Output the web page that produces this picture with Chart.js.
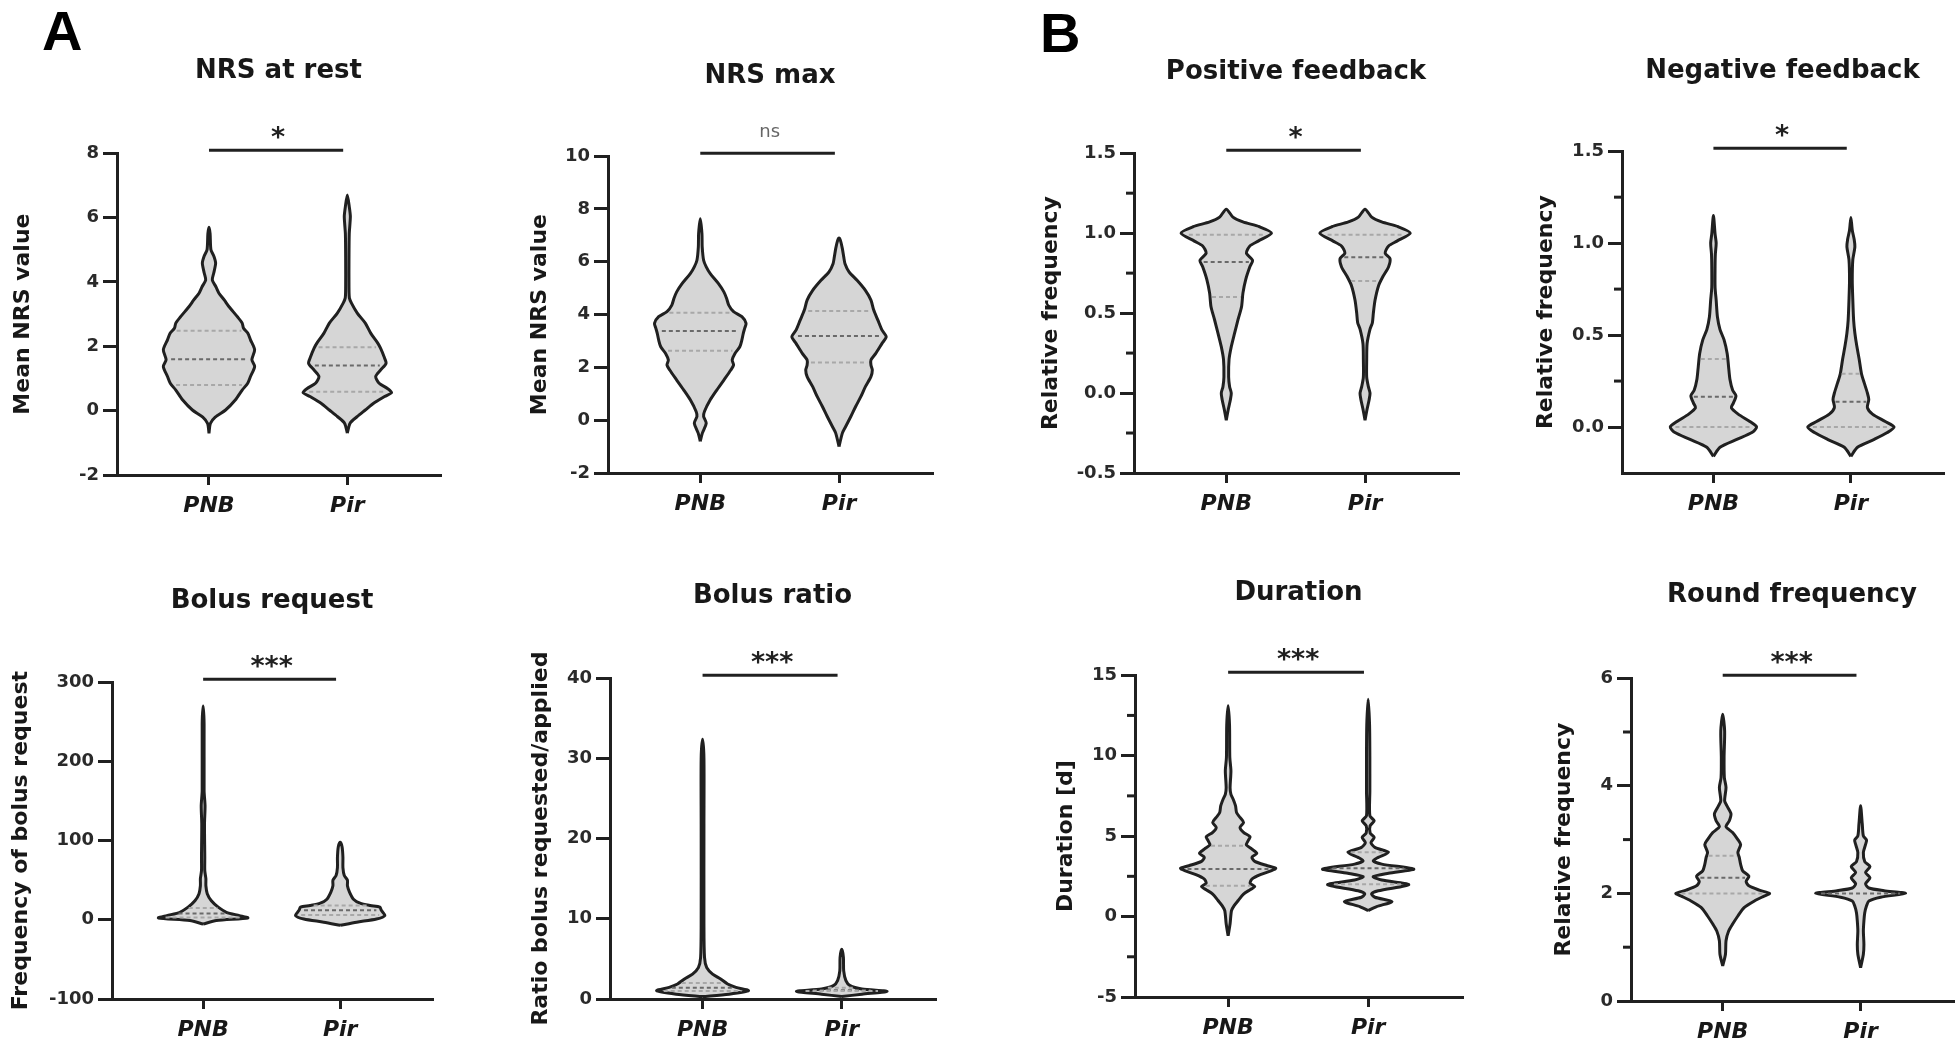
<!DOCTYPE html>
<html>
<head>
<meta charset="utf-8">
<script src="https://cdn.jsdelivr.net/npm/chart.js@4.4.1/dist/chart.umd.min.js"></script>
<style>
  body { margin: 0; background: #fff; }
  #page { position: relative; width: 1960px; height: 1048px; overflow: hidden; }
  #page canvas { position: absolute; }
  .tag { position: absolute; font: bold 56px "Liberation Sans", Arial, sans-serif; line-height: 1; color: #000; }
</style>
</head>
<body>
<div id="page">
  <div class="tag" style="left:42px;top:3px">A</div>
  <div class="tag" style="left:1040px;top:5px">B</div>
</div>
<script>
const categories = ['PNB', 'Pir'];

// violin outlines: value levels (Y) and half widths (W, in category units), quartiles (Q)
// NRS at rest
const restPnbY = [-0.7, -0.4, -0.2, 0.02, 0.33, 0.64, 0.85, 1.06, 1.37, 1.58, 1.89, 2.2, 2.41, 2.56, 2.72, 2.92, 3.23, 3.44, 3.65, 3.85, 4.06, 4.27, 4.58, 4.79, 5.0, 5.5, 5.7];
const restPnbW = [0, 0.01, 0.045, 0.12, 0.19, 0.24, 0.28, 0.30, 0.33, 0.31, 0.33, 0.30, 0.28, 0.25, 0.24, 0.205, 0.145, 0.11, 0.072, 0.05, 0.024, 0.034, 0.048, 0.036, 0.014, 0.008, 0];
const restPnbQ = [0.8, 1.6, 2.48];
const restPirY = [-0.7, -0.39, -0.19, 0.02, 0.23, 0.44, 0.56, 0.69, 0.85, 1.06, 1.26, 1.47, 1.68, 1.94, 2.1, 2.4, 2.72, 3.03, 3.34, 3.5, 3.85, 4.68, 5.5, 6.03, 6.34, 6.7];
const restPirW = [0, 0.02, 0.07, 0.13, 0.19, 0.27, 0.32, 0.29, 0.23, 0.205, 0.24, 0.28, 0.265, 0.24, 0.22, 0.17, 0.13, 0.072, 0.03, 0.015, 0.012, 0.012, 0.014, 0.022, 0.014, 0];
const restPirQ = [0.59, 1.4, 1.97];
const restTicks = [-2, 0, 2, 4, 6, 8];

// NRS max
const maxPnbY = [-0.8, -0.49, -0.11, 0.14, 0.33, 0.77, 1.15, 1.52, 1.9, 2.09, 2.28, 2.53, 2.78, 3.04, 3.29, 3.48, 3.67, 3.92, 4.11, 4.36, 4.61, 4.86, 5.18, 5.55, 5.81, 6.06, 6.56, 7.07, 7.63];
const maxPnbW = [0, 0.015, 0.043, 0.024, 0.03, 0.072, 0.12, 0.17, 0.22, 0.24, 0.23, 0.25, 0.285, 0.30, 0.31, 0.32, 0.33, 0.30, 0.24, 0.205, 0.19, 0.17, 0.13, 0.072, 0.043, 0.024, 0.014, 0.012, 0];
const maxPnbQ = [2.63, 3.38, 4.07];
const maxPirY = [-1.0, -0.49, -0.24, 0.14, 0.52, 0.89, 1.27, 1.65, 1.9, 2.09, 2.28, 2.53, 2.91, 3.16, 3.41, 3.79, 4.17, 4.55, 4.92, 5.3, 5.62, 5.93, 6.18, 6.5, 6.81, 6.9];
const maxPirW = [0, 0.024, 0.048, 0.085, 0.12, 0.157, 0.19, 0.23, 0.24, 0.23, 0.23, 0.265, 0.31, 0.34, 0.31, 0.28, 0.25, 0.23, 0.19, 0.13, 0.072, 0.043, 0.034, 0.024, 0.01, 0];
const maxPirQ = [2.19, 3.19, 4.14];
const maxTicks = [-2, 0, 2, 4, 6, 8, 10];

// Positive feedback
const posPnbY = [-0.17, -0.1, -0.04, 0.0, 0.04, 0.1, 0.21, 0.29, 0.375, 0.46, 0.54, 0.625, 0.71, 0.79, 0.83, 0.875, 0.92, 0.95, 1.0, 1.04, 1.07, 1.1, 1.15];
const posPnbW = [0, 0.015, 0.03, 0.036, 0.024, 0.017, 0.02, 0.036, 0.06, 0.085, 0.11, 0.12, 0.14, 0.17, 0.19, 0.145, 0.17, 0.23, 0.326, 0.24, 0.12, 0.048, 0];
const posPnbQ = [0.6, 0.82, 0.99];
const posPirY = [-0.17, -0.1, -0.04, 0.0, 0.04, 0.1, 0.21, 0.31, 0.4, 0.44, 0.5, 0.58, 0.67, 0.73, 0.79, 0.84, 0.875, 0.92, 0.95, 1.0, 1.04, 1.07, 1.1, 1.15];
const posPirW = [0, 0.015, 0.03, 0.036, 0.024, 0.012, 0.012, 0.015, 0.036, 0.053, 0.06, 0.072, 0.097, 0.13, 0.17, 0.18, 0.145, 0.17, 0.23, 0.326, 0.24, 0.12, 0.048, 0];
const posPirQ = [0.7, 0.85, 0.99];
const posTicks = [-0.5, 0, 0.5, 1, 1.5];
const posMinor = [-0.25, 0.25, 0.75, 1.25];

// Negative feedback
const negPnbY = [-0.16, -0.11, -0.067, -0.03, 0, 0.03, 0.07, 0.105, 0.13, 0.17, 0.2, 0.26, 0.33, 0.4, 0.475, 0.53, 0.6, 0.69, 0.76, 0.87, 0.94, 1.0, 1.05, 1.15];
const negPnbW = [0, 0.048, 0.17, 0.28, 0.314, 0.265, 0.18, 0.13, 0.145, 0.164, 0.14, 0.12, 0.11, 0.10, 0.077, 0.048, 0.029, 0.02, 0.012, 0.012, 0.014, 0.02, 0.012, 0];
const negPnbQ = [0, 0.165, 0.37];
const negPirY = [-0.16, -0.11, -0.067, -0.03, 0, 0.03, 0.07, 0.105, 0.15, 0.185, 0.24, 0.29, 0.37, 0.44, 0.51, 0.58, 0.69, 0.8, 0.91, 0.98, 1.02, 1.07, 1.14];
const negPirW = [0, 0.048, 0.17, 0.265, 0.314, 0.25, 0.157, 0.12, 0.13, 0.12, 0.097, 0.077, 0.06, 0.043, 0.029, 0.02, 0.014, 0.01, 0.014, 0.029, 0.024, 0.01, 0];
const negPirQ = [0, 0.137, 0.29];
const negTicks = [0, 0.5, 1, 1.5];
const negMinor = [0.25, 0.75, 1.25];

// Bolus request
const bolPnbY = [-5.3, -1, 2.3, 5.3, 9.5, 16, 24, 33, 43, 52, 62, 79, 121, 144, 163, 247, 270];
const bolPnbW = [0, 0.097, 0.326, 0.265, 0.17, 0.11, 0.06, 0.03, 0.02, 0.02, 0.012, 0.012, 0.01, 0.014, 0.007, 0.007, 0];
const bolPnbQ = [3, 8, 15];
const bolPirY = [-7, -3, 1, 5.3, 12, 16, 18, 21, 26, 35, 43, 50, 56, 66, 79, 92, 98];
const bolPirW = [0, 0.12, 0.265, 0.326, 0.3, 0.29, 0.22, 0.145, 0.097, 0.068, 0.053, 0.053, 0.03, 0.02, 0.02, 0.014, 0];
const bolPirQ = [6, 12, 18];
const bolTicks = [-100, 0, 100, 200, 300];

// Bolus ratio
const ratPnbY = [0.3, 0.6, 1.04, 1.45, 1.87, 2.5, 3.1, 3.9, 5.2, 9.3, 21.8, 30, 32.4];
const ratPnbW = [0, 0.19, 0.33, 0.24, 0.18, 0.13, 0.072, 0.03, 0.014, 0.01, 0.01, 0.01, 0];
const ratPnbQ = [1.0, 1.4, 2.0];
const ratPirY = [0.3, 0.6, 0.95, 1.25, 1.66, 2.3, 3.5, 5.2, 6.2];
const ratPirW = [0, 0.145, 0.326, 0.145, 0.06, 0.03, 0.014, 0.012, 0];
const ratPirQ = [1.0, 1.1, 1.4];
const ratTicks = [0, 10, 20, 30, 40];

// Duration
const durPnbY = [-1.2, -0.45, 0.37, 0.68, 1.0, 1.4, 1.67, 1.86, 2.07, 2.33, 2.6, 2.85, 3.0, 3.16, 3.43, 3.68, 3.93, 4.19, 4.46, 4.75, 4.96, 5.23, 5.54, 5.85, 6.16, 6.47, 6.88, 7.29, 7.6, 8.0, 9.05, 9.9, 11.9, 13.1];
const durPnbW = [0, 0.014, 0.024, 0.043, 0.072, 0.11, 0.157, 0.19, 0.157, 0.17, 0.23, 0.31, 0.34, 0.28, 0.19, 0.17, 0.205, 0.17, 0.13, 0.145, 0.157, 0.11, 0.085, 0.11, 0.085, 0.06, 0.053, 0.036, 0.02, 0.014, 0.02, 0.012, 0.01, 0];
const durPnbQ = [1.92, 2.95, 4.4];
const durPirY = [0.37, 0.62, 0.93, 1.2, 1.4, 1.6, 1.98, 2.27, 2.48, 2.69, 2.95, 3.26, 3.47, 3.68, 3.99, 4.3, 4.6, 4.92, 5.2, 5.64, 5.95, 6.26, 7.8, 9.9, 11.9, 13.5];
const durPirW = [0, 0.06, 0.17, 0.048, 0.024, 0.072, 0.29, 0.097, 0.036, 0.145, 0.326, 0.097, 0.036, 0.072, 0.145, 0.048, 0.02, 0.043, 0.014, 0.014, 0.043, 0.012, 0.012, 0.012, 0.01, 0];
const durPirQ = [2, 3, 4];
const durTicks = [-5, 0, 5, 10, 15];
const durMinor = [-2.5, 2.5, 7.5, 12.5];

// Round frequency
const rndPnbY = [0.65, 0.87, 1.12, 1.3, 1.43, 1.58, 1.74, 1.86, 1.95, 2.0, 2.06, 2.14, 2.22, 2.32, 2.42, 2.54, 2.67, 2.76, 2.91, 3.0, 3.13, 3.24, 3.35, 3.48, 3.63, 3.72, 3.97, 4.15, 4.53, 5.02, 5.33];
const rndPnbW = [0, 0.02, 0.024, 0.043, 0.072, 0.11, 0.157, 0.23, 0.3, 0.34, 0.265, 0.19, 0.17, 0.19, 0.145, 0.13, 0.12, 0.11, 0.13, 0.11, 0.072, 0.024, 0.048, 0.06, 0.03, 0.014, 0.024, 0.012, 0.01, 0.014, 0];
const rndPnbQ = [2.0, 2.29, 2.7];
const rndPirY = [0.62, 0.87, 1.05, 1.3, 1.49, 1.64, 1.77, 1.86, 1.93, 2.0, 2.05, 2.1, 2.18, 2.29, 2.39, 2.5, 2.59, 2.76, 2.91, 2.99, 3.07, 3.29, 3.63];
const rndPirW = [0, 0.02, 0.024, 0.02, 0.024, 0.03, 0.043, 0.06, 0.145, 0.326, 0.17, 0.06, 0.036, 0.068, 0.036, 0.068, 0.03, 0.02, 0.036, 0.043, 0.02, 0.012, 0];
const rndPirQ = [2.0];
const rndTicks = [0, 2, 4, 6];
const rndMinor = [1, 3, 5];

const panels = [
  {title: 'NRS at rest', yLabel: 'Mean NRS value', yMin: -2, yMax: 8, ticks: restTicks, minor: [], dec: 0, sig: '*',
   groups: [[restPnbY, restPnbW, restPnbQ], [restPirY, restPirW, restPirQ]]},
  {title: 'NRS max', yLabel: 'Mean NRS value', yMin: -2, yMax: 10, ticks: maxTicks, minor: [], dec: 0, sig: 'ns',
   groups: [[maxPnbY, maxPnbW, maxPnbQ], [maxPirY, maxPirW, maxPirQ]]},
  {title: 'Positive feedback', yLabel: 'Relative frequency', yMin: -0.5, yMax: 1.5, ticks: posTicks, minor: posMinor, dec: 1, sig: '*',
   groups: [[posPnbY, posPnbW, posPnbQ], [posPirY, posPirW, posPirQ]]},
  {title: 'Negative feedback', yLabel: 'Relative frequency', yMin: -0.25, yMax: 1.5, ticks: negTicks, minor: negMinor, dec: 1, sig: '*',
   groups: [[negPnbY, negPnbW, negPnbQ], [negPirY, negPirW, negPirQ]]},
  {title: 'Bolus request', yLabel: 'Frequency of bolus request', yMin: -100, yMax: 300, ticks: bolTicks, minor: [], dec: 0, sig: '***',
   groups: [[bolPnbY, bolPnbW, bolPnbQ], [bolPirY, bolPirW, bolPirQ]]},
  {title: 'Bolus ratio', yLabel: 'Ratio bolus requested/applied', yMin: 0, yMax: 40, ticks: ratTicks, minor: [], dec: 0, sig: '***',
   groups: [[ratPnbY, ratPnbW, ratPnbQ], [ratPirY, ratPirW, ratPirQ]]},
  {title: 'Duration', yLabel: 'Duration [d]', yMin: -5, yMax: 15, ticks: durTicks, minor: durMinor, dec: 0, sig: '***',
   groups: [[durPnbY, durPnbW, durPnbQ], [durPirY, durPirW, durPirQ]]},
  {title: 'Round frequency', yLabel: 'Relative frequency', yMin: 0, yMax: 6, ticks: rndTicks, minor: rndMinor, dec: 0, sig: '***',
   groups: [[rndPnbY, rndPnbW, rndPnbQ], [rndPirY, rndPirW, rndPirQ]]}
];

// where each plot sits on the page (px)
const frames = [
  {x0: 0, y0: 0, left: 117, right: 440, top: 153, bottom: 475, titleY: 72, yTitleX: 23},
  {x0: 490, y0: 0, left: 608, right: 932, top: 156, bottom: 473, titleY: 77, yTitleX: 540},
  {x0: 980, y0: 0, left: 1134, right: 1458, top: 153, bottom: 473, titleY: 73, yTitleX: 1051},
  {x0: 1470, y0: 0, left: 1622, right: 1943, top: 151, bottom: 473, titleY: 72, yTitleX: 1546},
  {x0: 0, y0: 524, left: 112, right: 432, top: 682, bottom: 999, titleY: 602, yTitleX: 21},
  {x0: 490, y0: 524, left: 610, right: 935, top: 678, bottom: 999, titleY: 597, yTitleX: 541},
  {x0: 980, y0: 524, left: 1135, right: 1462, top: 675, bottom: 997, titleY: 594, yTitleX: 1066},
  {x0: 1470, y0: 524, left: 1631, right: 1953, top: 678, bottom: 1001, titleY: 596, yTitleX: 1564}
];

const ink = '#202020';
const fillGray = '#d6d6d6';
const fam = '"DejaVu Sans", sans-serif';
Chart.defaults.font.family = fam;

function widthAt(ys, ws, v) {
  for (let i = 1; i < ys.length; i++) {
    if (v <= ys[i]) {
      const t = (v - ys[i - 1]) / (ys[i] - ys[i - 1]);
      return ws[i - 1] + t * (ws[i] - ws[i - 1]);
    }
  }
  return 0;
}

function violinSets(c, ys, ws, qs) {
  const right = ys.map((y, i) => ({x: c + ws[i], y: y}));
  const left = ys.map((y, i) => ({x: c - ws[i], y: y})).reverse();
  const sets = [{
    data: right.concat(left.slice(1)),
    borderColor: ink, borderWidth: 3, backgroundColor: fillGray,
    fill: 'shape', tension: 0.25, borderJoinStyle: 'round', order: 1
  }];
  qs.forEach((q, k) => {
    const hw = widthAt(ys, ws, q) * 0.88;
    sets.push({
      data: [{x: c - hw, y: q}, {x: c + hw, y: q}],
      borderColor: (k === 1 || qs.length === 1) ? '#6a6a6a' : '#a8a8a8',
      borderWidth: 2, borderDash: [4, 3], fill: false, order: 0
    });
  });
  return sets;
}

// minor ticks, significance bar and stars
const marks = {
  id: 'marks',
  afterDraw(chart, args, opts) {
    const {ctx, chartArea} = chart;
    const x = chart.scales.x, y = chart.scales.y;
    ctx.save();
    ctx.strokeStyle = ink;
    ctx.lineWidth = 3;
    opts.minor.forEach(v => {
      const py = y.getPixelForValue(v);
      ctx.beginPath();
      ctx.moveTo(chartArea.left - 8, py);
      ctx.lineTo(chartArea.left, py);
      ctx.stroke();
    });
    const by = chartArea.top - 3;
    ctx.beginPath();
    ctx.moveTo(x.getPixelForValue(1), by);
    ctx.lineTo(x.getPixelForValue(1.97), by);
    ctx.stroke();
    const cx = x.getPixelForValue(1.5);
    ctx.textAlign = 'center';
    ctx.textBaseline = 'alphabetic';
    if (opts.sig === 'ns') {
      ctx.font = '18px ' + fam;
      ctx.fillStyle = '#666';
      ctx.fillText('ns', cx, by - 16);
    } else {
      ctx.font = 'bold 27px ' + fam;
      ctx.fillStyle = ink;
      ctx.fillText(opts.sig, cx, by - 4);
    }
    ctx.restore();
  }
};

const page = document.getElementById('page');

panels.forEach((p, n) => {
  const f = frames[n];
  const W = 490, H = 524;
  const canvas = document.createElement('canvas');
  canvas.width = W;
  canvas.height = H;
  canvas.style.left = f.x0 + 'px';
  canvas.style.top = f.y0 + 'px';
  page.appendChild(canvas);

  const datasets = [];
  p.groups.forEach((g, i) => datasets.push(...violinSets(i + 1, g[0], g[1], g[2])));

  new Chart(canvas, {
    type: 'line',
    data: {datasets: datasets},
    options: {
      responsive: false,
      animation: false,
      events: [],
      layout: {padding: {left: 0, right: f.x0 + W - f.right, top: 0, bottom: 0}},
      elements: {point: {radius: 0}},
      plugins: {
        legend: {display: false},
        tooltip: {enabled: false},
        title: {
          display: true, text: p.title, fullSize: false, color: '#181818',
          font: {size: 26, weight: 'bold'},
          padding: {top: f.titleY - f.y0 - 16, bottom: f.top - f.titleY - 15}
        },
        marks: {minor: p.minor, sig: p.sig}
      },
      scales: {
        x: {
          type: 'linear', min: 0.335, max: 2.67,
          afterBuildTicks: s => { s.ticks = [{value: 1}, {value: 2}]; },
          afterFit: s => { s.height = f.y0 + H - f.bottom; },
          ticks: {
            callback: v => categories[v - 1], color: '#181818', padding: 8,
            font: {size: 22, weight: 'bold', style: 'italic'}, maxRotation: 0
          },
          grid: {drawOnChartArea: false, tickLength: 10, tickWidth: 3, tickColor: ink, lineWidth: 3},
          border: {display: true, width: 3, color: ink}
        },
        y: {
          type: 'linear', min: p.yMin, max: p.yMax,
          afterBuildTicks: s => { s.ticks = p.ticks.map(v => ({value: v})); },
          afterFit: s => { s.width = f.left - f.x0; },
          ticks: {
            callback: v => v.toFixed(p.dec), color: '#2a2a2a', padding: 4,
            font: {size: 18, weight: 'bold'}
          },
          grid: {drawOnChartArea: false, tickLength: 14, tickWidth: 3, tickColor: ink, lineWidth: 3},
          border: {display: true, width: 3, color: ink},
          title: {
            display: true, text: p.yLabel, color: '#181818',
            font: {size: 22, weight: 'bold'},
            padding: {top: Math.max(0, f.yTitleX - f.x0 - 13), bottom: 0}
          }
        }
      }
    },
    plugins: [marks]
  });
});
</script>
</body>
</html>
